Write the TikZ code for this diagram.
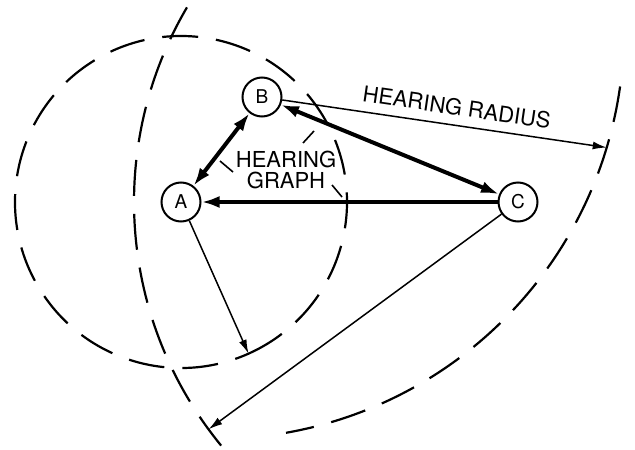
\documentclass[tikz,border=0pt]{standalone}
\usepackage{fontspec}
\setmainfont{TeX Gyre Heros}
\usetikzlibrary{arrows.meta,calc}
\tikzset{station/.style={circle,draw,line width=2pt,minimum size=39pt,inner sep=0pt,
    font=\fontsize{19}{19}\selectfont},
  link/.style={line width=4pt,{Latex[length=18pt,width=12pt]}-{Latex[length=18pt,width=12pt]}},
  oneway/.style={line width=4pt,-{Latex[length=18pt,width=12pt]}},
  reach/.style={line width=1.5pt,-{Latex[length=14pt,width=8pt]}},
  earshot/.style={line width=2.2pt,dash pattern=on 36pt off 18pt},
  caption/.style={font=\fontsize{22}{21}\selectfont,inner sep=3pt},
  leader/.style={line width=1.6pt}}

\begin{document}
\begin{tikzpicture}[x=1pt,y=-1pt]
\useasboundingbox (0,0) rectangle (635,450);
\node[station] (A) at (181,202) {A};
\node[station] (B) at (262,97) {B};
\node[station] (C) at (518,202) {C};
\coordinate (ob) at (215,30);
\coordinate (ra) at ($(A)+(66:166)$);
\coordinate (rb) at ($(ob)+(16.7:409)$);
\coordinate (rc) at ($(C)+(143.7:384)$);
% hearing ranges
\draw[earshot] ($(A)+(58.5:166)$) arc[start angle=58.5,end angle=418.5,radius=166];
\draw[earshot] ($(ob)+(15.5:409)$) arc[start angle=15.5,end angle=80,radius=409];
\draw[earshot,dash phase=36pt] ($(ob)+(15.5:409)$) arc[start angle=15.5,end angle=6,radius=409];
\draw[earshot] ($(C)+(146:384)$) arc[start angle=146,end angle=138,radius=384];
\draw[earshot,dash phase=36pt] ($(C)+(146:384)$) arc[start angle=146,end angle=214,radius=384];
% radii
\draw[reach] (A) -- (ra);
\draw[reach] (B) -- node[caption,sloped,above=6pt,pos=.53] {HEARING RADIUS} (rb);
\draw[reach] (C) -- (rc);
% hearing graph
\draw[link] (A) -- (B);
\draw[link] (B) -- (C);
\draw[oneway] (C) -- (A);
\node[caption,align=center] (hg) at (286,170) {HEARING\\GRAPH};
\foreach \p/\q in {{-66,-9}/{-53,2},{17,-27}/{28,-39},{46,15}/{56,27}}
  \draw[leader] ($(hg)+(\p)$) -- ($(hg)+(\q)$);
\end{tikzpicture}
\end{document}
